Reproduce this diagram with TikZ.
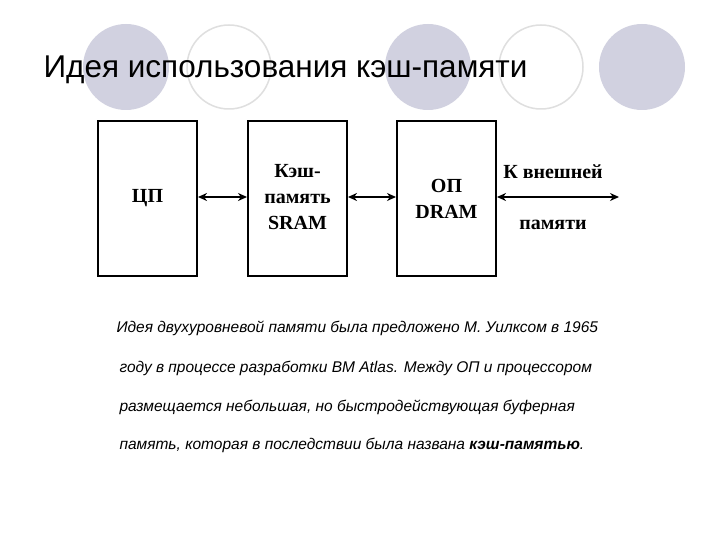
\documentclass[tikz,border=0pt]{standalone}
\usepackage{fontspec}
\usetikzlibrary{arrows.meta}
\setmainfont{Liberation Serif}
\newfontfamily\arial{Liberation Sans}
\begin{document}
\begin{tikzpicture}[x=1pt,y=-1pt,
  blk/.style={draw,line width=2pt,minimum width=99pt,minimum height=155pt,anchor=north west},
  lab/.style={font=\bfseries\fontsize{20}{24}\selectfont,align=center},
  arr/.style={{Stealth[length=9pt,width=8pt]}-{Stealth[length=9pt,width=8pt]},line width=1.5pt},
  fc/.style={fill=blue!20!gray!30,draw=none},
  oc/.style={draw=gray!25,line width=1.5pt},
  para/.style={font=\arial\itshape\fontsize{15.5}{18}\selectfont,anchor=west}]
\useasboundingbox (0,0) rectangle (720,540);
\fill[white] (0,0) rectangle (720,540);
\fill[fc] (126,67) circle (43);
\draw[oc] (229,67) circle (42);
\fill[fc] (428,67) circle (43);
\draw[oc] (541,67) circle (42);
\fill[fc] (642,67) circle (43);
\node[anchor=west,font=\arial\fontsize{31.5}{34}\selectfont] (title) at (40,70) {Идея использования кэш-памяти};
\node[blk] (cpu) at (97,120) {};
\node[blk] (cache) at (247,120) {};
\node[blk] (op) at (396,120) {};
\node[lab] at (cpu.center) {ЦП};
\node[lab,text width=95pt,font=\bfseries\fontsize{20}{26}\selectfont] at ([yshift=1pt]cache.center) {Кэш-\\память\\SRAM};
\node[lab,font=\bfseries\fontsize{20}{26}\selectfont] at ([yshift=0pt]op.center) {ОП\\DRAM};
\coordinate (ext) at (619,197);
\draw[arr] (cpu.east |- 0,197) -- (cache.west |- 0,197);
\draw[arr] (cache.east |- 0,197) -- (op.west |- 0,197);
\draw[arr] (op.east |- 0,197) -- (ext);
\node[lab] (k1) at (553,172) {К внешней};
\node[lab] (k2) at (553,225) {памяти};
\node[para] (p1) at (113,328) {Идея двухуровневой памяти была предложено М. Уилксом в 1965};
\node[para] (p2) at (116,368) {году в процессе разработки ВМ Atlas. Между ОП и процессором};
\node[para] (p3) at (116,407) {размещается небольшая, но быстродействующая буферная};
\node[para] (p4) at (116,445) {память, которая в последствии была названа \textbf{кэш-памятью}.};
\end{tikzpicture}
\end{document}
